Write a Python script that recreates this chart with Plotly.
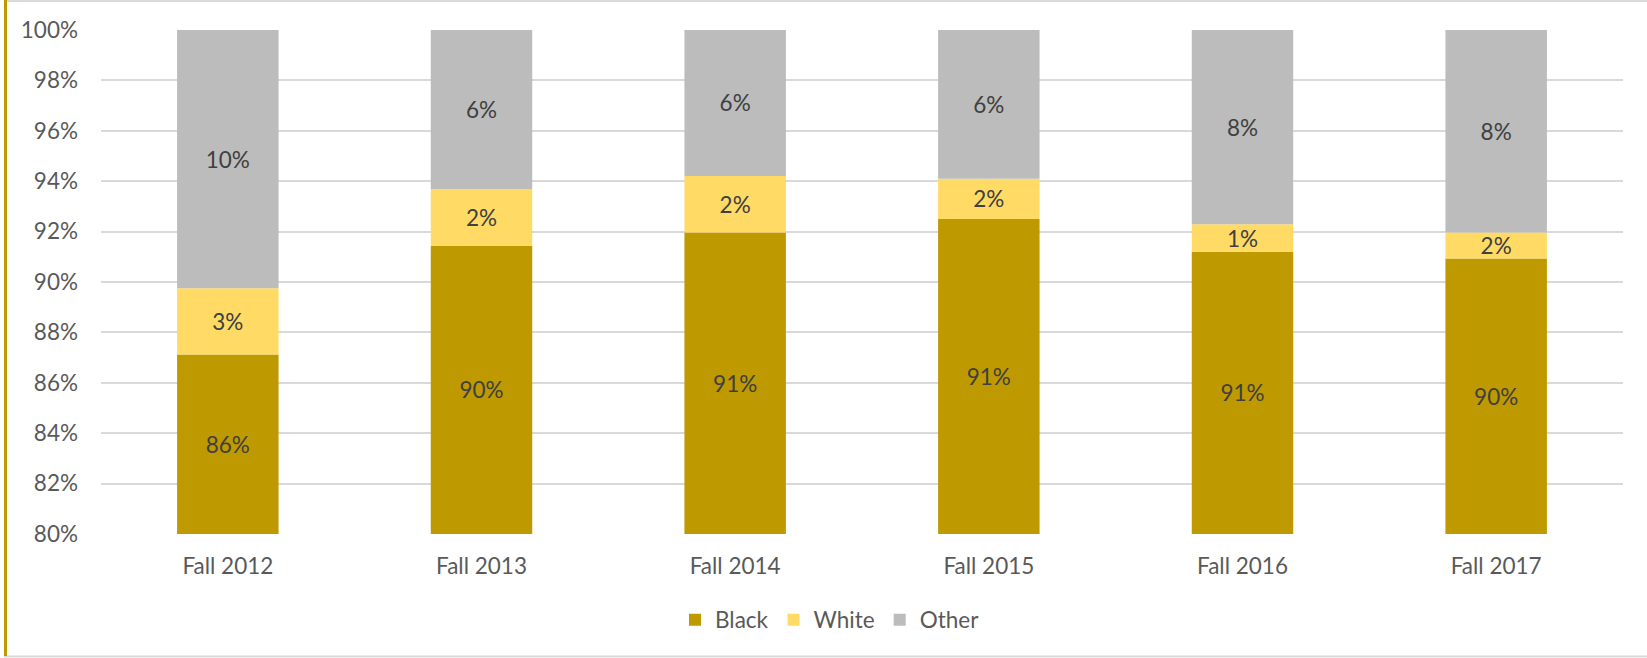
import plotly.graph_objects as go

categories = ["Fall 2012", "Fall 2013", "Fall 2014", "Fall 2015", "Fall 2016", "Fall 2017"]
black = [87.12, 91.44, 91.96, 92.50, 91.20, 90.93]
white = [2.63, 2.25, 2.25, 1.60, 1.09, 1.03]
other = [round(100 - b - w, 2) for b, w in zip(black, white)]
black_labels = ["86%", "90%", "91%", "91%", "91%", "90%"]
white_labels = ["3%", "2%", "2%", "2%", "1%", "2%"]
other_labels = ["10%", "6%", "6%", "6%", "8%", "8%"]
axis_min = 80
axis_max = 100

FONT = "Lato"
TXT = "#404040"
TICK = "#595959"
FS = 22.5

fig = go.Figure()
fig.add_trace(go.Bar(
    name="Black", x=categories, y=[b - axis_min for b in black], base=[axis_min] * len(black),
    text=black_labels, marker=dict(color="#BF9900", line=dict(width=0)),
))
fig.add_trace(go.Bar(
    name="White", x=categories, y=white, base=black,
    text=white_labels, marker=dict(color="#FFDB66", line=dict(width=0)),
))
fig.add_trace(go.Bar(
    name="Other", x=categories, y=other, base=[b + w for b, w in zip(black, white)],
    text=other_labels, marker=dict(color="#BCBCBC", line=dict(width=0)),
))
fig.update_traces(textposition="inside", insidetextanchor="middle",
                  textfont=dict(family=FONT, size=FS, color=TXT), hoverinfo="skip")

W, H = 1647, 658
L, R, T, B = 101, 24, 30, 124
pw, ph = W - L - R, H - T - B

def fx(px):
    return (px - L) / pw

def fy(py):
    return (H - B - py) / ph

shapes = [
    dict(type="rect", xref="paper", yref="paper", x0=fx(5), x1=fx(1650), y0=fy(656.5), y1=fy(1),
         line=dict(color="#D9D9D9", width=2), fillcolor="rgba(0,0,0,0)", layer="below"),
    dict(type="line", xref="paper", yref="paper", x0=fx(5.5), x1=fx(5.5), y0=fy(656), y1=fy(0),
         line=dict(color="#BF9900", width=3)),
]

fig.update_layout(
    width=W, height=H,
    margin=dict(l=L, r=R, t=T, b=B),
    barmode="overlay", bargap=0.6,
    plot_bgcolor="white", paper_bgcolor="white",
    font=dict(family=FONT, size=FS, color=TICK),
    uniformtext=dict(minsize=FS, mode="show"),
    shapes=shapes,
    showlegend=True,
    legend=dict(orientation="h", x=fx(830), xanchor="center", y=fy(620), yanchor="middle",
                font=dict(family=FONT, size=FS, color=TICK), traceorder="normal",
                itemwidth=30, tracegroupgap=0),
    xaxis=dict(showgrid=False, ticks="", showline=False, ticklabelstandoff=16,
               tickfont=dict(family=FONT, size=FS, color=TICK)),
    yaxis=dict(range=[axis_min, axis_max], dtick=2, ticksuffix="%", showgrid=True,
               gridcolor="#D9D9D9", gridwidth=2, zeroline=False, showline=False,
               ticks="", ticklabelstandoff=22,
               tickfont=dict(family=FONT, size=FS, color=TICK)),
)

fig.write_html("out.html", config={"displayModeBar": False},
               post_script="document.body.style.margin='0';document.body.style.overflow='hidden';")
